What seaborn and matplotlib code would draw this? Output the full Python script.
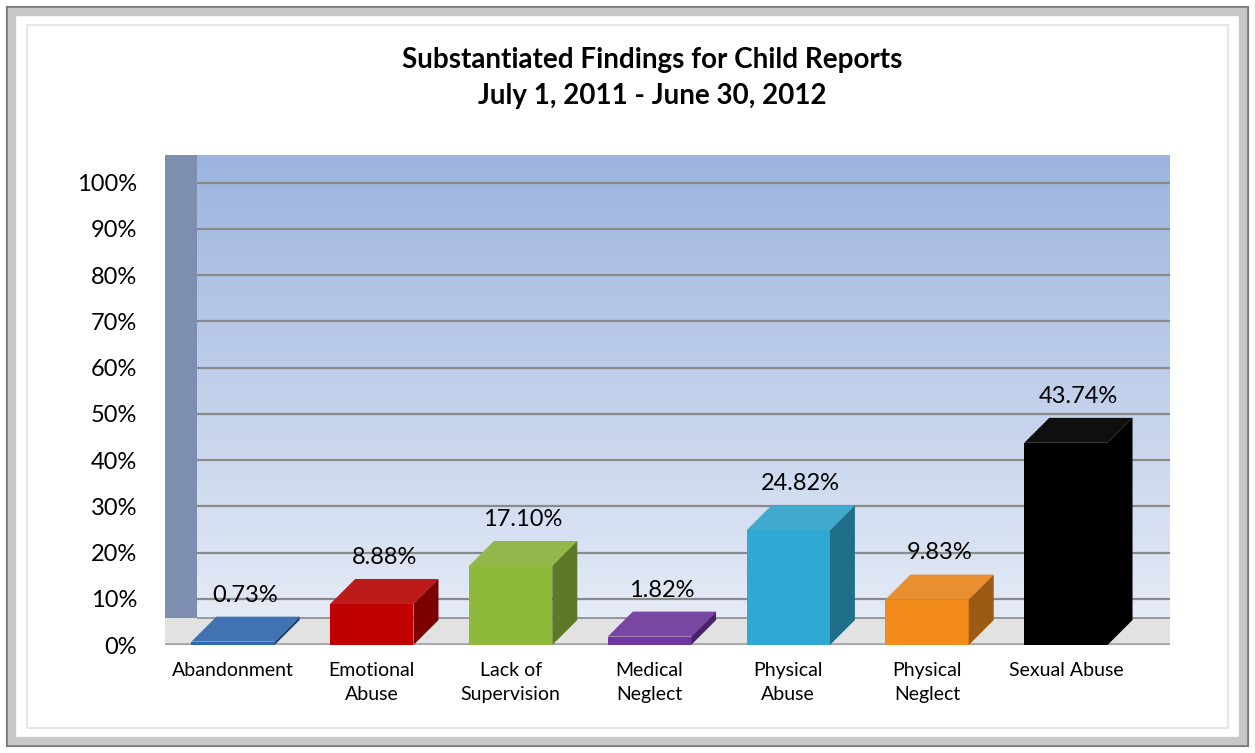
import numpy as np
import pandas as pd
import matplotlib
matplotlib.use("Agg")
import matplotlib.pyplot as plt
import seaborn as sns
from matplotlib.colors import LinearSegmentedColormap, to_rgb
from matplotlib.patches import Polygon, Rectangle

# --- data ---
categories = ["Abandonment", "Emotional\nAbuse", "Lack of\nSupervision", "Medical\nNeglect",
              "Physical\nAbuse", "Physical\nNeglect", "Sexual Abuse"]
values = [0.73, 8.88, 17.10, 1.82, 24.82, 9.83, 43.74]
value_labels = ["0.73%", "8.88%", "17.10%", "1.82%", "24.82%", "9.83%", "43.74%"]
bar_colors = ["#2f68b2", "#c00000", "#8fb93a", "#6f35a0", "#2fa9d4", "#f28a1c", "#000000"]
y_ticks = [0, 10, 20, 30, 40, 50, 60, 70, 80, 90, 100]
y_tick_labels = ["0%", "10%", "20%", "30%", "40%", "50%", "60%", "70%", "80%", "90%", "100%"]
title = "Substantiated Findings for Child Reports\nJuly 1, 2011 - June 30, 2012"

df = pd.DataFrame({"category": categories, "value": values})

sns.set_theme(style="white")
plt.rcParams["font.family"] = ["Lato", "DejaVu Sans"]
plt.rcParams["text.color"] = "black"
plt.rcParams["xtick.color"] = "black"
plt.rcParams["ytick.color"] = "black"

W, H = 1255, 753
fig = plt.figure(figsize=(W / 100, H / 100), dpi=100)
ax = fig.add_axes([165 / W, (H - 645) / H, 1005 / W, 490 / H])

xmin, xmax = -0.49, 6.75
ymax = 106

# back wall gradient
wall_cmap = LinearSegmentedColormap.from_list("wall", ["#e9eef8", "#9cb4de"])
grad = np.linspace(0, 1, 256).reshape(-1, 1)
ax.imshow(grad, extent=[xmin, xmax, 0, ymax], origin="lower", aspect="auto",
          cmap=wall_cmap, zorder=0)

# left side wall and floor
side_w = 0.23
ax.axvspan(xmin, xmin + side_w, color="#7d8eb0", zorder=0.5, lw=0)
ax.axhspan(0, 5.8, color="#e2e2e2", zorder=0.6, lw=0)
ax.axhline(0.3, color="#a6a6a6", lw=2, zorder=0.7)

# gridlines on back wall
ax.hlines(y_ticks[1:], xmin + side_w, xmax, color="#8a8a8a", lw=1.6, zorder=1)
ax.hlines([5.8], xmin + side_w, xmax, color="#8a8a8a", lw=1.2, zorder=1)

sns.barplot(data=df, x="category", y="value", hue="category", palette=bar_colors,
            width=0.6, legend=False, ax=ax, saturation=1, zorder=3)

# seaborn resets categorical limits, so set them afterwards
ax.set_xlim(xmin, xmax)
ax.set_ylim(0, ymax)

bars = sorted([b for c in ax.containers for b in c], key=lambda b: b.get_x())

# pseudo-3D faces derived from each bar
dx, dy = 0.18, 5.4
for patch, col, lab in zip(bars, bar_colors, value_labels):
    x0, w, h = patch.get_x(), patch.get_width(), patch.get_height()
    patch.set_edgecolor("none")
    base = np.array(to_rgb(col))
    top_col = np.clip(base * 0.85 + 0.1, 0, 1) if col != "#000000" else (0.06, 0.06, 0.06)
    side_col = base * 0.65
    ax.add_patch(Polygon([(x0, h), (x0 + dx, h + dy), (x0 + w + dx, h + dy), (x0 + w, h)],
                         closed=True, facecolor=top_col, edgecolor="none", zorder=3))
    ax.add_patch(Polygon([(x0 + w, 0), (x0 + w + dx, dy), (x0 + w + dx, h + dy), (x0 + w, h)],
                         closed=True, facecolor=side_col, edgecolor="none", zorder=3))
    ax.annotate(lab, (x0 + w / 2 + dx / 2, h + dy), xytext=(0, 8), textcoords="offset points",
                ha="center", va="bottom", fontsize=17, color="black")

ax.set_yticks(y_ticks)
ax.set_yticklabels(y_tick_labels, fontsize=17)
ax.set_xticks(range(len(categories)))
ax.set_xticklabels(categories, fontsize=14, linespacing=1.5)
ax.tick_params(axis="y", length=0, pad=20)
ax.tick_params(axis="x", length=0, pad=12)
ax.set_xlabel("")
ax.set_ylabel("")
for s in ax.spines.values():
    s.set_visible(False)

fig.text(652 / W, 1 - 78 / H, title, ha="center", va="center", fontsize=20,
         fontweight="bold", linespacing=1.45, color="black")

# outer frame
fig.add_artist(Rectangle((8 / W, 8 / H), (W - 16) / W, (H - 16) / H, transform=fig.transFigure,
                         fill=False, edgecolor="#7a7a7a", lw=3))
fig.add_artist(Rectangle((12 / W, 12 / H), (W - 24) / W, (H - 24) / H, transform=fig.transFigure,
                         fill=False, edgecolor="#c8c8c8", lw=6))
fig.add_artist(Rectangle((27 / W, 25 / H), (W - 54) / W, (H - 50) / H, transform=fig.transFigure,
                         fill=False, edgecolor="#e6e6e6", lw=1.5))

fig.savefig("out.png", dpi=100)
